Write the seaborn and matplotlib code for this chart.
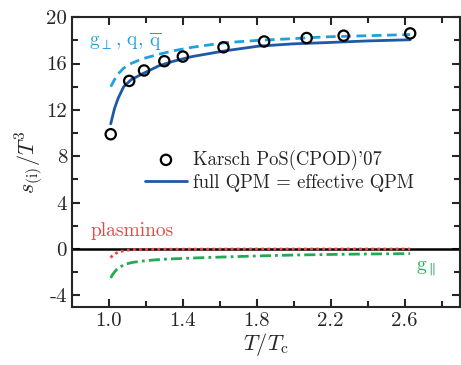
import matplotlib
matplotlib.use("Agg")
import matplotlib.pyplot as plt
import seaborn as sns
import pandas as pd

# lattice data (Karsch PoS(CPOD)'07)
lat_T = [1.01, 1.11, 1.19, 1.30, 1.40, 1.62, 1.84, 2.07, 2.27, 2.63]
lat_s = [9.9, 14.5, 15.4, 16.2, 16.6, 17.4, 17.9, 18.2, 18.4, 18.6]

# full QPM curve
qpm_T = [1.01, 1.03, 1.05, 1.08, 1.12, 1.18, 1.27, 1.35, 1.45, 1.63, 1.81, 2.0, 2.17, 2.4, 2.63]
qpm_s = [10.8, 12.1, 13.0, 14.0, 14.6, 15.1, 15.8, 16.2, 16.6, 17.1, 17.5, 17.7, 17.8, 17.95, 18.05]

# g_perp, q, qbar contribution
perp_T = [1.01, 1.03, 1.05, 1.08, 1.12, 1.18, 1.27, 1.35, 1.45, 1.63, 1.81, 2.0, 2.17, 2.4, 2.63]
perp_s = [14.0, 14.6, 15.1, 15.6, 16.0, 16.4, 16.8, 17.1, 17.4, 17.8, 18.0, 18.15, 18.3, 18.4, 18.5]

# plasminos
plas_T = [1.01, 1.02, 1.04, 1.06, 1.09, 1.13, 1.2, 1.3, 1.5, 1.8, 2.2, 2.63]
plas_s = [-0.75, -0.55, -0.35, -0.22, -0.12, -0.06, -0.03, -0.02, -0.01, 0.0, 0.0, 0.0]

# g_parallel
par_T = [1.01, 1.02, 1.04, 1.06, 1.09, 1.13, 1.2, 1.3, 1.45, 1.6, 1.8, 2.0, 2.2, 2.4, 2.63]
par_s = [-2.5, -2.2, -1.8, -1.55, -1.3, -1.15, -1.0, -0.88, -0.78, -0.7, -0.6, -0.52, -0.47, -0.43, -0.4]

sns.set_style("ticks")
plt.rcParams['font.family'] = ['cmr10', 'DejaVu Serif']
plt.rcParams['mathtext.fontset'] = 'cm'
plt.rcParams['axes.unicode_minus'] = False
plt.rcParams['axes.formatter.use_mathtext'] = True

fig = plt.figure(figsize=(4.61, 3.65), dpi=100)
ax = fig.add_axes([0.156, 0.159, 0.842, 0.794])

ax.axhline(0, color='black', lw=1.8, zorder=1)

sns.lineplot(x=perp_T, y=perp_s, ax=ax, color='#1fa0e0', lw=2, linestyle=(0, (3.5, 2)))
sns.lineplot(x=plas_T, y=plas_s, ax=ax, color='#ee4444', lw=2, linestyle=(0, (1, 1.2)))
sns.lineplot(x=par_T, y=par_s, ax=ax, color='#22aa55', lw=2, linestyle=(0, (4, 1.5, 1, 1.5)))
sns.lineplot(x=qpm_T, y=qpm_s, ax=ax, color='#1c5aa8', lw=2, label='full QPM = effective QPM')
sns.scatterplot(x=lat_T, y=lat_s, ax=ax, s=55, facecolor='none', edgecolor='black', linewidth=1.6,
                label="Karsch PoS(CPOD)'07", zorder=5)

ax.text(0.89, 17.9, r'g$_\perp$, q, $\overline{\mathrm{q}}$', color='#1fa0e0', fontsize=14, va='center')
ax.text(0.9, 1.1, 'plasminos', color='#ee4444', fontsize=14)
ax.text(2.66, -1.7, r'g$_\parallel$', color='#22aa55', fontsize=14, va='center')

handles, labels = ax.get_legend_handles_labels()
ax.legend(handles[::-1], labels[::-1], loc='upper left', bbox_to_anchor=(0.165, 0.575), frameon=False,
          fontsize=13.5, handlelength=2.2, handletextpad=0.35, labelspacing=0.2, borderpad=0)

ax.set_xlim(0.8, 2.9)
ax.set_ylim(-5, 20)
ax.set_xticks([1.0, 1.4, 1.8, 2.2, 2.6])
ax.set_xticklabels(['1.0', '1.4', '1.8', '2.2', '2.6'])
ax.set_xticks([1.2, 1.6, 2.0, 2.4, 2.8], minor=True)
ax.set_yticks([-4, 0, 4, 8, 12, 16, 20])
ax.set_yticklabels(['-4', '0', '4', '8', '12', '16', '20'])
ax.set_yticks([-2, 2, 6, 10, 14, 18], minor=True)
ax.tick_params(which='both', direction='in', top=True, right=True, width=1.5, labelsize=15)
ax.tick_params(which='major', length=6)
ax.tick_params(which='minor', length=4)
for sp in ax.spines.values():
    sp.set_linewidth(1.5)

ax.set_xlabel(r'$T/T_{\rm c}$', fontsize=16, labelpad=1)
ax.set_ylabel(r'$s_{\rm (i)}/T^3$', fontsize=16, labelpad=1)

fig.savefig('out.png', dpi=100)
